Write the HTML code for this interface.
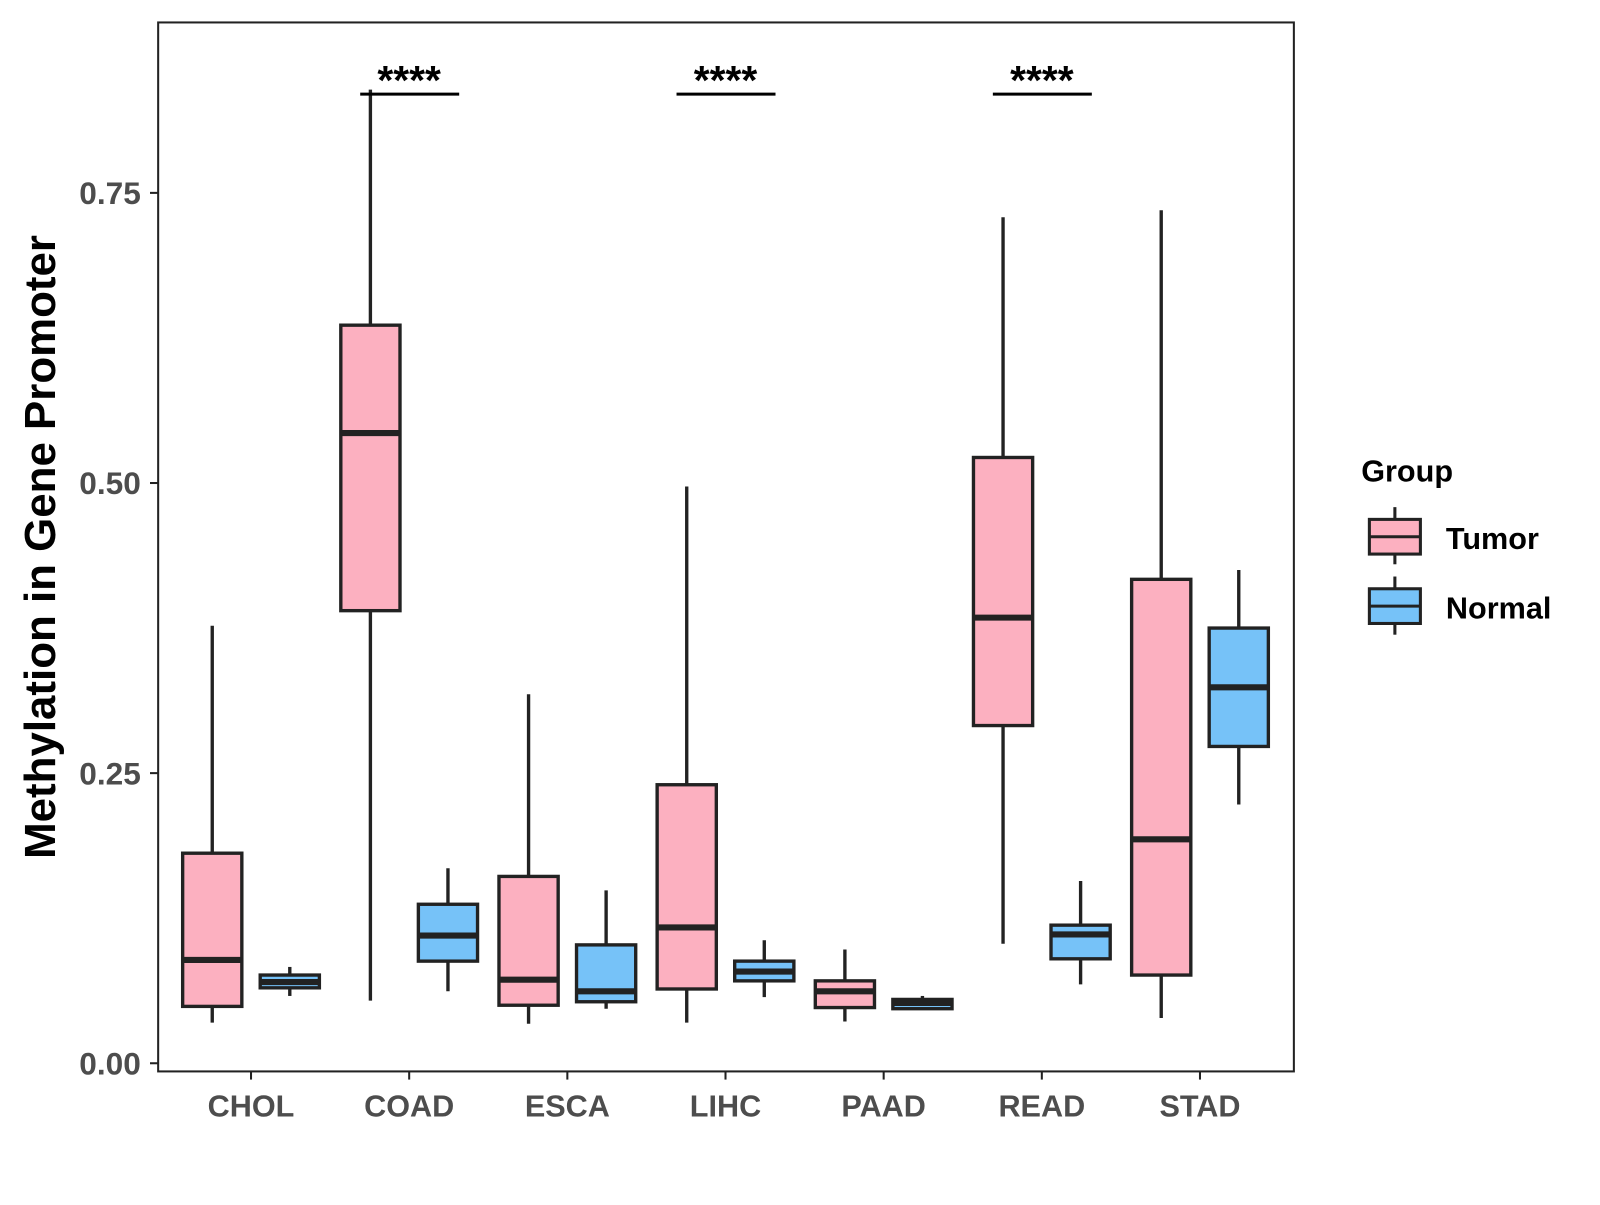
<!DOCTYPE html>
<html><head><meta charset="utf-8"><style>
body{margin:0;background:#fff}
svg text{font-family:"Liberation Sans",sans-serif;font-weight:bold}
</style></head><body>
<svg id="chart" width="1600" height="1200" viewBox="0 0 1600 1200">
<g transform="scale(1.0204)">
<rect x="155" y="22" width="1113" height="1028" fill="#fff" stroke="#222" stroke-width="2"/>
<g id="marks"></g>
<text x="0" y="0" transform="translate(54,536) rotate(-90)" text-anchor="middle" font-size="43" fill="#000">Methylation in Gene Promoter</text>
<g>
<text x="1334" y="472" font-size="30" fill="#000">Group</text>
<g>
<line x1="1367" y1="497" x2="1367" y2="553" stroke="#222" stroke-width="3"/>
<rect x="1342" y="509" width="50" height="34" fill="#fcb0c0" stroke="#222" stroke-width="3"/>
<line x1="1342" y1="526" x2="1392" y2="526" stroke="#222" stroke-width="3"/>
<text x="1417" y="538" font-size="30" fill="#000">Tumor</text></g>
<g>
<line x1="1367" y1="565" x2="1367" y2="622" stroke="#222" stroke-width="3"/>
<rect x="1342" y="577" width="50" height="34" fill="#76c2f8" stroke="#222" stroke-width="3"/>
<line x1="1342" y1="594" x2="1392" y2="594" stroke="#222" stroke-width="3"/>
<text x="1417" y="606" font-size="30" fill="#000">Normal</text></g>
</g>
</g>
</svg>
<script>
const categories=["CHOL","COAD","ESCA","LIHC","PAAD","READ","STAD"];
const tumorStats=[[0.035,0.049,0.089,0.181,0.377],[0.054,0.39,0.543,0.636,0.839],[0.034,0.050,0.072,0.161,0.318],[0.035,0.064,0.117,0.240,0.497],[0.036,0.048,0.062,0.071,0.098],[0.103,0.291,0.384,0.522,0.729],[0.039,0.076,0.193,0.417,0.735]];
const normalStats=[[0.058,0.065,0.070,0.076,0.083],[0.062,0.088,0.110,0.137,0.168],[0.047,0.053,0.062,0.102,0.149],[0.057,0.071,0.079,0.088,0.106],[0.046,0.047,0.052,0.055,0.058],[0.068,0.090,0.111,0.119,0.157],[0.223,0.273,0.324,0.375,0.425]];
const yTicks=[0,0.25,0.5,0.75];
const yTickLabels=["0.00","0.25","0.50","0.75"];
const sigGroups=["COAD","LIHC","READ"];
const sigLabels=["****","****","****"];
const sigY=0.836;
const NS="http://www.w3.org/2000/svg";
const g=document.getElementById('marks');
const y=v=>1042-v*1137.3;
const x=i=>246+i*155;
function mk(t,a,p){const e=document.createElementNS(NS,t);for(const k in a)e.setAttribute(k,a[k]);(p||g).appendChild(e);return e;}
yTicks.forEach((v,i)=>{
 const l=mk('line',{x1:147,x2:155,y1:y(v),y2:y(v),stroke:'#222','stroke-width':2});
 
 
 const t=mk('text',{x:138,y:y(v)+11,'text-anchor':'end','font-size':31,fill:'#4d4d4d'});
 t.textContent=yTickLabels[i];
 
 
});
categories.forEach((c,i)=>{
 const l=mk('line',{x1:x(i),x2:x(i),y1:1050,y2:1058,stroke:'#222','stroke-width':2});
 
 
 const t=mk('text',{x:x(i),y:1094,'text-anchor':'middle','font-size':30,fill:'#4d4d4d'});
 t.textContent=c;
 
 
 [[tumorStats[i],-38,'#fcb0c0','tumor'],[normalStats[i],38,'#76c2f8','normal']].forEach(([s,off,col,nm])=>{
  const cx=x(i)+off;
  const b=mk('g',{});
  
  
  mk('line',{x1:cx,x2:cx,y1:y(s[0]),y2:y(s[4]),stroke:'#222','stroke-width':3.3},b);
  mk('rect',{x:cx-29,y:y(s[3]),width:58,height:y(s[1])-y(s[3]),fill:col,stroke:'#222','stroke-width':3.3},b);
  mk('line',{x1:cx-29,x2:cx+29,y1:y(s[2]),y2:y(s[2]),stroke:'#222','stroke-width':6},b);
 });
});
sigGroups.forEach((c,k)=>{
 const i=categories.indexOf(c);
 const l=mk('line',{x1:x(i)-48,x2:x(i)+49,y1:y(sigY)+1,y2:y(sigY)+1,stroke:'#000','stroke-width':3});
 
 
 const t=mk('text',{x:x(i),y:y(sigY)+1,'text-anchor':'middle','font-size':40,fill:'#000'});
 t.textContent=sigLabels[k];
 
 
});
</script>
</body></html>
